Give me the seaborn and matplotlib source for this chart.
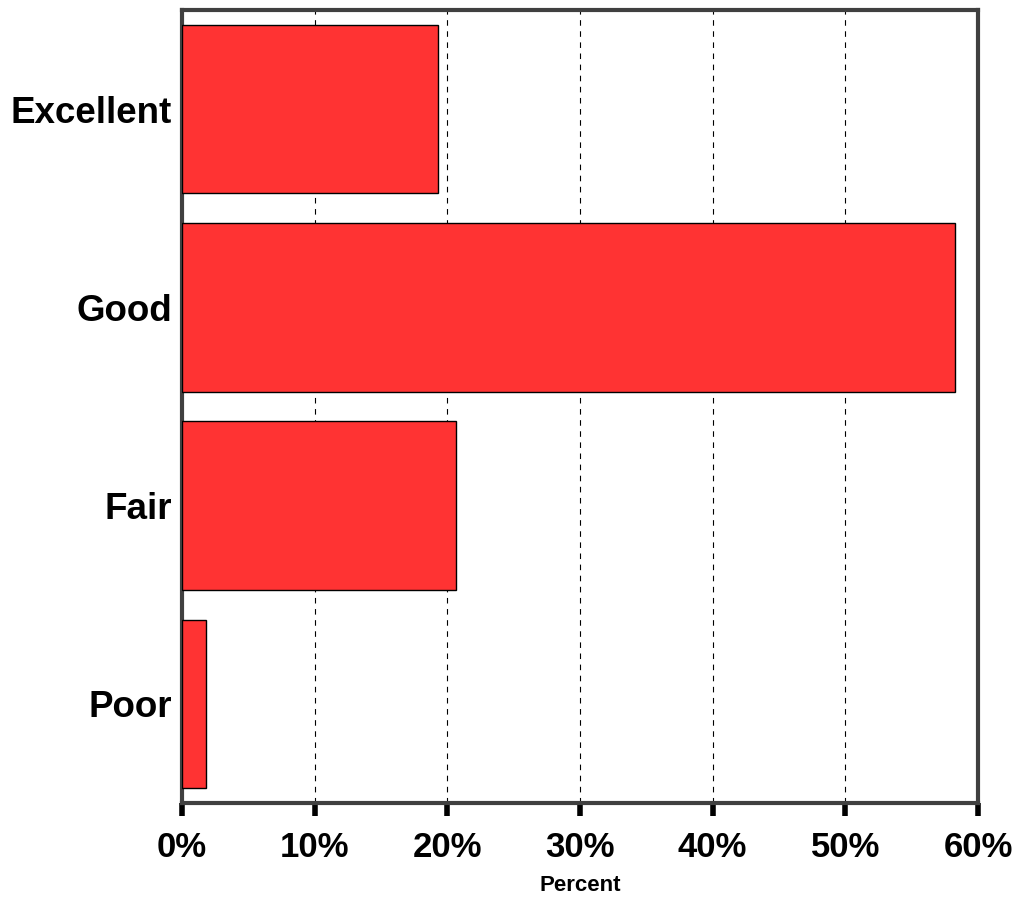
import pandas as pd
import matplotlib.pyplot as plt
import seaborn as sns
from matplotlib.ticker import PercentFormatter

# Survey ratings and share of responses (percent)
ratings = ['Excellent', 'Good', 'Fair', 'Poor']
percents = [19.3, 58.3, 20.65, 1.8]
x_ticks = [0, 10, 20, 30, 40, 50, 60]

df = pd.DataFrame({'Rating': ratings, 'Percent': percents})

sns.set_style('white')
plt.rcParams['font.family'] = ['Liberation Sans', 'DejaVu Sans']
plt.rcParams['text.color'] = 'black'
plt.rcParams['xtick.color'] = 'black'
plt.rcParams['ytick.color'] = 'black'
plt.rcParams['axes.labelcolor'] = 'black'

fig = plt.figure(figsize=(10.22, 8.97), dpi=100)
ax = fig.add_axes([0.178, 0.1048, 0.779, 0.8842])

sns.barplot(data=df, x='Percent', y='Rating', orient='h', color='#FF3333',
            saturation=1, width=0.85, edgecolor='black', linewidth=1, ax=ax, zorder=3)

ax.set_xlim(0, 60)
ax.set_ylim(3.5, -0.5)
ax.set_xticks(x_ticks)
ax.xaxis.set_major_formatter(PercentFormatter(decimals=0))

# dashed vertical gridlines
ax.grid(axis='x', linestyle=(0, (5, 5)), color='black', linewidth=0.8, zorder=0)
ax.set_axisbelow(True)

for side in ['left', 'right', 'top', 'bottom']:
    ax.spines[side].set_visible(True)
    ax.spines[side].set_color('#404040')
    ax.spines[side].set_linewidth(3)

ax.tick_params(axis='x', which='major', direction='out', length=9, width=4,
               color='black', labelcolor='black', bottom=True, pad=11)
ax.tick_params(axis='y', length=0, pad=7, labelcolor='black')

for lab in ax.get_xticklabels():
    lab.set_fontsize(25)
    lab.set_fontweight('bold')
for lab in ax.get_yticklabels():
    lab.set_fontsize(26.5)
    lab.set_fontweight('bold')

ax.set_xlabel('Percent', fontsize=16, fontweight='bold', labelpad=8, color='black')
ax.set_ylabel('')

plt.savefig('out.png', dpi=100)
